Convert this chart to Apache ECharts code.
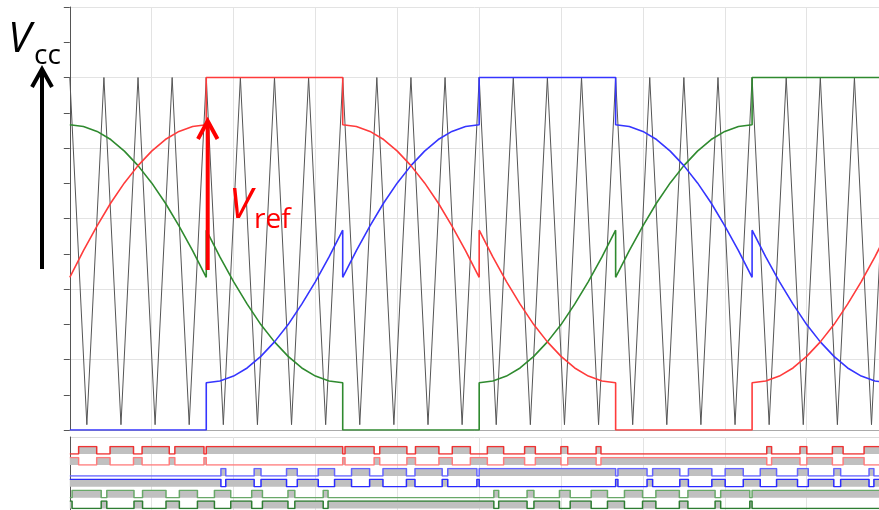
<!DOCTYPE html>
<html><head><meta charset="utf-8">
<script src="https://cdn.jsdelivr.net/npm/echarts@6/dist/echarts.min.js"></script>
<style>html,body{margin:0;padding:0;background:#fff}#c{width:879px;height:510px}</style>
</head><body><div id="c"></div>
<script>
// angle (degrees) of the reference samples; duplicated angles are the clamp jumps
const angleDeg = [0,6,12,18,24,30,36,42,48,54,60, 60,66,72,78,84,90,96,102,108,114,120,
  120,126,132,138,144,150,156,162,168,174,180, 180,186,192,198,204,210,216,222,228,234,240,
  240,246,252,258,264,270,276,282,288,294,300, 300,306,312,318,324,330,336,342,348,354,360];
const refRed = [4.33,5.09,5.79,6.44,7.01,7.50,7.91,8.24,8.47,8.61,8.66,
  10,10,10,10,10,10,10,10,10,10,10,
  8.66,8.61,8.47,8.24,7.91,7.50,7.01,6.44,5.79,5.09,4.33,
  5.67,4.91,4.21,3.57,2.99,2.50,2.09,1.76,1.53,1.39,1.34,
  0,0,0,0,0,0,0,0,0,0,0,
  1.34,1.39,1.53,1.76,2.09,2.50,2.99,3.57,4.21,4.91,5.67];
const refBlue = [0,0,0,0,0,0,0,0,0,0,0,
  1.34,1.39,1.53,1.76,2.09,2.50,2.99,3.57,4.21,4.91,5.67,
  4.33,5.09,5.79,6.44,7.01,7.50,7.91,8.24,8.47,8.61,8.66,
  10,10,10,10,10,10,10,10,10,10,10,
  8.66,8.61,8.47,8.24,7.91,7.50,7.01,6.44,5.79,5.09,4.33,
  5.67,4.91,4.21,3.57,2.99,2.50,2.09,1.76,1.53,1.39,1.34];
const refGreen = [8.66,8.61,8.47,8.24,7.91,7.50,7.01,6.44,5.79,5.09,4.33,
  5.67,4.91,4.21,3.57,2.99,2.50,2.09,1.76,1.53,1.39,1.34,
  0,0,0,0,0,0,0,0,0,0,0,
  1.34,1.39,1.53,1.76,2.09,2.50,2.99,3.57,4.21,4.91,5.67,
  4.33,5.09,5.79,6.44,7.01,7.50,7.91,8.24,8.47,8.61,8.66,
  10,10,10,10,10,10,10,10,10,10,10];
// triangle carrier vertices
const carrierAngle = [0,7.5,15,22.5,30,37.5,45,52.5,60,67.5,75,82.5,90,97.5,105,112.5,120,127.5,135,142.5,
  150,157.5,165,172.5,180,187.5,195,202.5,210,217.5,225,232.5,240,247.5,255,262.5,270,277.5,285,292.5,
  300,307.5,315,322.5,330,337.5,345,352.5,360];
const carrierLevel = [10,0.15,10,0.15,10,0.15,10,0.15,10,0.15,10,0.15,10,0.15,10,0.15,10,0.15,10,0.15,
  10,0.15,10,0.15,10,0.15,10,0.15,10,0.15,10,0.15,10,0.15,10,0.15,10,0.15,10,0.15,
  10,0.15,10,0.15,10,0.15,10,0.15,10];
// switching instants (degrees) of each upper switch; state starts low at 0
const pwmRedEdges = [3.88,11.83,17.70,28.01,31.78,43.73,46.19,58.99,60,120,121.01,133.81,136.27,148.22,
  151.99,162.30,168.17,176.12,183.59,190.76,199.98,204.70,215.93,218.94,231.42,233.55,306.45,308.58,
  321.06,324.07,335.30,340.02,349.24,356.41];
const pwmBlueEdges = [66.45,68.58,81.06,84.07,95.30,100.02,109.24,116.41,123.88,131.83,137.70,148.01,
  151.78,163.73,166.19,178.99,180,240,241.01,253.81,256.27,268.22,271.99,282.30,288.17,296.12,
  303.59,310.76,319.98,324.70,335.93,338.94,351.42,353.55];
const pwmGreenEdges = [1.01,13.81,16.27,28.22,31.99,42.30,48.17,56.12,63.59,70.76,79.98,84.70,95.93,98.94,
  111.42,113.55,186.45,188.58,201.06,204.07,215.30,220.02,229.24,236.41,243.88,251.83,257.70,268.01,
  271.78,283.73,286.19,298.99,300,360];
const xMax = 355.8;

function pairs(xs, ys) { return xs.map((x, i) => [x, ys[i]]); }
function stepData(edges, invert) {
  const d = [[0, invert ? 1 : 0]];
  edges.forEach((e, i) => { let s = (i % 2 === 0) ? 1 : 0; if (invert) s = 1 - s; d.push([e, s]); });
  const last = d[d.length - 1];
  if (last[0] < xMax) d.push([xMax, last[1]]);
  return d;
}

const LEFT = 69.8;
const gridLine = '#e3e3e3';
const rows = [
  { edges: pwmRedEdges, inv: false, color: '#ee3333' },
  { edges: pwmRedEdges, inv: true, color: '#ff7c7c' },
  { edges: pwmBlueEdges, inv: false, color: '#6464ff' },
  { edges: pwmBlueEdges, inv: true, color: '#2a2aff' },
  { edges: pwmGreenEdges, inv: false, color: '#68a868' },
  { edges: pwmGreenEdges, inv: true, color: '#2e7d32' }
];
const rowTops = [446.6, 457.5, 468.4, 479.3, 490.2, 501.1];

const grids = [
  { left: LEFT, right: 0, top: 7, bottom: 80 },
  { left: LEFT, right: 0, top: 437, bottom: 0 }
];
const xAxes = [
  { gridIndex: 0, type: 'value', min: 0, max: xMax, interval: 36, axisLabel: { show: false }, axisTick: { show: false },
    axisLine: { show: true, lineStyle: { color: '#aaaaaa' } }, splitLine: { show: true, lineStyle: { color: gridLine } } },
  { gridIndex: 1, type: 'value', min: 0, max: xMax, interval: 36, axisLabel: { show: false }, axisTick: { show: false },
    axisLine: { show: false }, splitLine: { show: true, lineStyle: { color: gridLine } } }
];
const yAxes = [
  { gridIndex: 0, type: 'value', min: 0, max: 12, interval: 2, axisLabel: { show: false },
    axisLine: { show: true, lineStyle: { color: '#555' } },
    axisTick: { show: true, length: 6, lineStyle: { color: '#555' } },
    minorTick: { show: true, splitNumber: 2, length: 6, lineStyle: { color: '#555' } },
    splitLine: { show: true, lineStyle: { color: gridLine } } },
  { gridIndex: 1, type: 'value', min: 0, max: 1, interval: 1, axisLabel: { show: false }, axisTick: { show: false },
    axisLine: { show: true, lineStyle: { color: '#555' } }, splitLine: { show: true, lineStyle: { color: '#dcdcdc' } } }
];
const series = [
  { type: 'line', xAxisIndex: 0, yAxisIndex: 0, data: pairs(carrierAngle, carrierLevel), symbol: 'none',
    lineStyle: { color: '#555', width: 1 }, z: 2 },
  { type: 'line', xAxisIndex: 0, yAxisIndex: 0, data: pairs(angleDeg, refGreen), symbol: 'none',
    lineStyle: { color: '#2f8a2f', width: 1.6 }, z: 3 },
  { type: 'line', xAxisIndex: 0, yAxisIndex: 0, data: pairs(angleDeg, refBlue), symbol: 'none',
    lineStyle: { color: '#3535ff', width: 1.6 }, z: 3 },
  { type: 'line', xAxisIndex: 0, yAxisIndex: 0, data: pairs(angleDeg, refRed), symbol: 'none',
    lineStyle: { color: '#ff3b3b', width: 1.6 }, z: 3 }
];
rows.forEach((r, i) => {
  const gi = i + 2;
  grids.push({ left: LEFT, right: 0, top: rowTops[i], height: 7.5 });
  xAxes.push({ gridIndex: gi, type: 'value', min: 0, max: xMax, show: false });
  yAxes.push({ gridIndex: gi, type: 'value', min: 0, max: 1, show: false });
  series.push({ type: 'line', xAxisIndex: gi, yAxisIndex: gi, step: 'end', data: stepData(r.edges, r.inv),
    symbol: 'none', lineStyle: { color: r.color, width: 1.5 },
    areaStyle: { color: '#c0c0c0', opacity: 1, origin: 'start' }, z: 3 });
});

const chart = echarts.init(document.getElementById('c'), null, { renderer: 'canvas' });
chart.setOption({
  animation: false,
  grid: grids, xAxis: xAxes, yAxis: yAxes, series: series,
  graphic: [
    { type: 'line', z: 100, shape: { x1: 42, y1: 269, x2: 42, y2: 71 }, style: { stroke: '#000', lineWidth: 4 } },
    { type: 'polyline', z: 100, shape: { points: [[32, 87], [42, 69], [52, 87]] }, style: { stroke: '#000', lineWidth: 4, fill: null } },
    { type: 'line', z: 100, shape: { x1: 207.7, y1: 270, x2: 207.7, y2: 123 }, style: { stroke: '#ff0000', lineWidth: 4 } },
    { type: 'polyline', z: 100, shape: { points: [[198, 139], [207.7, 121], [217.5, 139]] }, style: { stroke: '#ff0000', lineWidth: 4, fill: null } },
    { type: 'text', z: 100, style: { text: 'V', x: 8, y: 40, fontSize: 42, fontStyle: 'italic', fontFamily: 'Open Sans', fill: '#000', align: 'left', verticalAlign: 'middle' } },
    { type: 'text', z: 100, style: { text: 'cc', x: 34, y: 56.5, fontSize: 28, fontFamily: 'Open Sans', fill: '#000', align: 'left', verticalAlign: 'middle' } },
    { type: 'text', z: 100, style: { text: 'V', x: 229, y: 206, fontSize: 42, fontStyle: 'italic', fontFamily: 'Open Sans', fill: '#ff0000', align: 'left', verticalAlign: 'middle' } },
    { type: 'text', z: 100, style: { text: 'ref', x: 254, y: 220.5, fontSize: 28, fontFamily: 'Open Sans', fill: '#ff0000', align: 'left', verticalAlign: 'middle' } }
  ]
});
</script></body></html>
